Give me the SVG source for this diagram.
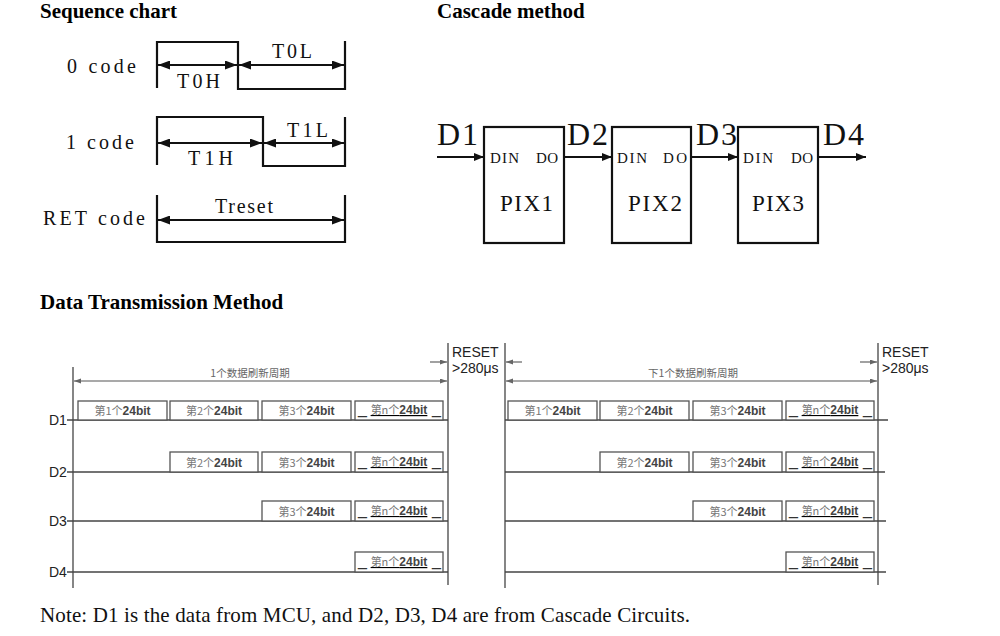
<svg xmlns="http://www.w3.org/2000/svg" width="1000" height="636" viewBox="0 0 1000 636">
<style>
.title{font-family:"Liberation Serif",serif;font-weight:bold;font-size:21px;fill:#000}
.seq{font-family:"Liberation Serif",serif;font-size:20px;fill:#111}
.wave{fill:none;stroke:#111;stroke-width:2.2}
.sarr{stroke:#111;stroke-width:2;marker-start:url(#seqA);marker-end:url(#seqA)}
.box{fill:#fff;stroke:#111;stroke-width:2.2}
.conn{stroke:#111;stroke-width:2.2;marker-end:url(#casA)}
.dl{font-family:"Liberation Serif",serif;font-size:32px;fill:#111}
.pin{font-family:"Liberation Serif",serif;font-size:15px;fill:#111}
.pix{font-family:"Liberation Serif",serif;font-size:23px;fill:#111}
.tl{stroke:#444;stroke-width:1.3;fill:none}
.tb{fill:#fff;stroke:#555;stroke-width:1.3}
.lab{font-family:"Liberation Sans",Arial,sans-serif;font-size:14px;fill:#222}
.cj{font-family:"Noto Sans CJK SC",sans-serif;font-size:11px;fill:#777}
.bt{font-family:"Liberation Sans",Arial,sans-serif;font-weight:bold;font-size:12px;fill:#444}
.us{font-family:"Liberation Sans",Arial,sans-serif;font-size:16px;fill:#333}
.per{font-family:"Noto Sans CJK SC",sans-serif;font-size:10.5px;fill:#666}
.parr{stroke:#555;stroke-width:1.1;marker-end:url(#smA)}
.parr2{stroke:#555;stroke-width:1.1;marker-start:url(#smA);marker-end:url(#smA)}
.note{font-family:"Liberation Serif",serif;font-size:21px;fill:#111}
</style>
<defs>
<marker id="seqA" markerUnits="userSpaceOnUse" markerWidth="13" markerHeight="9" refX="12" refY="4.5" orient="auto-start-reverse"><path d="M0,0 L12,4.5 L0,9 z" fill="#111"/></marker>
<marker id="casA" markerUnits="userSpaceOnUse" markerWidth="11" markerHeight="9" refX="10" refY="4" orient="auto-start-reverse"><path d="M0,0 L10,4 L0,8 z" fill="#111"/></marker>
<marker id="smA" markerUnits="userSpaceOnUse" markerWidth="8" markerHeight="6" refX="7" refY="2.5" orient="auto-start-reverse"><path d="M0,0 L7,2.5 L0,5 z" fill="#666"/></marker>
</defs>

<g id="titles">
<text class="title" x="40" y="18">Sequence chart</text>
<text class="title" x="437" y="18">Cascade method</text>
<text class="title" x="40" y="309">Data Transmission Method</text>
</g>

<!-- Sequence chart -->
<g id="seq-0code">
<text class="seq" x="67" y="73" textLength="69" lengthAdjust="spacing">0 code</text>
<path class="wave" d="M157,88 V42 H238 V89 H345 M345,41 V90"/>
<line class="sarr" x1="158" y1="65" x2="237" y2="65"/>
<line class="sarr" x1="239" y1="65" x2="344" y2="65"/>
<text class="seq" x="177" y="88" textLength="43" lengthAdjust="spacing">T0H</text>
<text class="seq" x="272" y="58" textLength="40" lengthAdjust="spacing">T0L</text>
</g>
<g id="seq-1code">
<text class="seq" x="66" y="149" textLength="68" lengthAdjust="spacing">1 code</text>
<path class="wave" d="M157,165 V117 H263 V166 H345 M345,117 V167"/>
<line class="sarr" x1="158" y1="143" x2="262" y2="143"/>
<line class="sarr" x1="264" y1="143" x2="344" y2="143"/>
<text class="seq" x="188" y="165" textLength="45" lengthAdjust="spacing">T1H</text>
<text class="seq" x="287" y="137" textLength="41" lengthAdjust="spacing">T1L</text>
</g>
<g id="seq-ret">
<text class="seq" x="43" y="225" textLength="102" lengthAdjust="spacing">RET code</text>
<path class="wave" d="M157,195 V243 M345,195 V243 M157,242 H345"/>
<line class="sarr" x1="158" y1="220" x2="344" y2="220"/>
<text class="seq" x="215" y="213" textLength="58" lengthAdjust="spacing">Treset</text>
</g>

<!-- Cascade method -->
<g id="cascade-connectors">
<line class="conn" x1="437" y1="157" x2="484" y2="157"/>
<line class="conn" x1="564" y1="157" x2="612" y2="157"/>
<line class="conn" x1="691" y1="157" x2="738" y2="157"/>
<line class="conn" x1="818" y1="157" x2="866" y2="157"/>
<text class="dl" x="437" y="145" textLength="41" lengthAdjust="spacing">D1</text>
<text class="dl" x="567" y="145" textLength="41" lengthAdjust="spacing">D2</text>
<text class="dl" x="696" y="145" textLength="41" lengthAdjust="spacing">D3</text>
<text class="dl" x="823" y="145" textLength="41" lengthAdjust="spacing">D4</text>
</g>
<g id="pix1">
<rect class="box" x="484" y="127" width="80" height="116"/>
<text class="pin" x="490" y="163" textLength="29" lengthAdjust="spacing">DIN</text>
<text class="pin" x="536" y="163" textLength="22" lengthAdjust="spacing">DO</text>
<text class="pix" x="500" y="211" textLength="53" lengthAdjust="spacing">PIX1</text>
</g>
<g id="pix2">
<rect class="box" x="612" y="127" width="79" height="116"/>
<text class="pin" x="617" y="163" textLength="30" lengthAdjust="spacing">DIN</text>
<text class="pin" x="663" y="163" textLength="24" lengthAdjust="spacing">DO</text>
<text class="pix" x="628" y="211" textLength="54" lengthAdjust="spacing">PIX2</text>
</g>
<g id="pix3">
<rect class="box" x="738" y="127" width="80" height="116"/>
<text class="pin" x="743" y="163" textLength="30" lengthAdjust="spacing">DIN</text>
<text class="pin" x="791" y="163" textLength="22" lengthAdjust="spacing">DO</text>
<text class="pix" x="752" y="211" textLength="52" lengthAdjust="spacing">PIX3</text>
</g>

<!-- Data transmission timing -->
<g id="timing-frame">
<line class="tl" x1="73" y1="367" x2="73" y2="588"/>
<line class="tl" x1="448" y1="343" x2="448" y2="585"/>
<line class="tl" x1="505" y1="343" x2="505" y2="588"/>
<line class="tl" x1="878" y1="343" x2="878" y2="585"/>
<line class="parr2" x1="74" y1="381" x2="447" y2="381"/>
<line class="parr2" x1="506" y1="381" x2="877" y2="381"/>
<line class="parr" x1="430" y1="362" x2="447" y2="362"/>
<line class="parr" x1="522" y1="362" x2="506" y2="362"/>
<line class="parr" x1="860" y1="362" x2="877" y2="362"/>
<text class="per" x="250" y="377" text-anchor="middle">1个数据刷新周期</text>
<text class="per" x="693" y="377" text-anchor="middle">下1个数据刷新周期</text>
<text class="lab" x="452" y="357">RESET</text>
<text class="lab" x="452" y="373">&gt;280μs</text>
<text class="lab" x="882" y="357">RESET</text>
<text class="lab" x="882" y="373">&gt;280μs</text>
</g>

<g id="row-D1">
<text class="lab" x="49" y="425">D1</text>
<line class="tl" x1="67" y1="420" x2="448" y2="420"/>
<line class="tl" x1="505" y1="420" x2="888" y2="420"/>
<rect class="tb" x="78" y="401" width="89" height="19"/>
<text x="122.5" y="415" text-anchor="middle"><tspan class="cj">第1个</tspan><tspan class="bt">24bit</tspan></text>
<rect class="tb" x="170" y="401" width="88" height="19"/>
<text x="214" y="415" text-anchor="middle"><tspan class="cj">第2个</tspan><tspan class="bt">24bit</tspan></text>
<rect class="tb" x="262" y="401" width="89" height="19"/>
<text x="306.5" y="415" text-anchor="middle"><tspan class="cj">第3个</tspan><tspan class="bt">24bit</tspan></text>
<rect class="tb" x="355" y="401" width="88" height="19"/>
<text class="us" x="358" y="414">_</text><text x="399" y="414" text-anchor="middle" text-decoration="underline"><tspan class="cj">第n个</tspan><tspan class="bt">24bit</tspan></text><text class="us" x="441" y="414" text-anchor="end">_</text>
<rect class="tb" x="508" y="401" width="89" height="19"/>
<text x="552.5" y="415" text-anchor="middle"><tspan class="cj">第1个</tspan><tspan class="bt">24bit</tspan></text>
<rect class="tb" x="600" y="401" width="89" height="19"/>
<text x="644.5" y="415" text-anchor="middle"><tspan class="cj">第2个</tspan><tspan class="bt">24bit</tspan></text>
<rect class="tb" x="693" y="401" width="89" height="19"/>
<text x="737.5" y="415" text-anchor="middle"><tspan class="cj">第3个</tspan><tspan class="bt">24bit</tspan></text>
<rect class="tb" x="786" y="401" width="88" height="19"/>
<text class="us" x="789" y="414">_</text><text x="830" y="414" text-anchor="middle" text-decoration="underline"><tspan class="cj">第n个</tspan><tspan class="bt">24bit</tspan></text><text class="us" x="872" y="414" text-anchor="end">_</text>
</g>

<g id="row-D2">
<text class="lab" x="49" y="477">D2</text>
<line class="tl" x1="67" y1="472" x2="448" y2="472"/>
<line class="tl" x1="505" y1="472" x2="885" y2="472"/>
<rect class="tb" x="170" y="452" width="88" height="20"/>
<text x="214" y="467" text-anchor="middle"><tspan class="cj">第2个</tspan><tspan class="bt">24bit</tspan></text>
<rect class="tb" x="262" y="452" width="89" height="20"/>
<text x="306.5" y="467" text-anchor="middle"><tspan class="cj">第3个</tspan><tspan class="bt">24bit</tspan></text>
<rect class="tb" x="355" y="452" width="88" height="20"/>
<text class="us" x="358" y="466">_</text><text x="399" y="466" text-anchor="middle" text-decoration="underline"><tspan class="cj">第n个</tspan><tspan class="bt">24bit</tspan></text><text class="us" x="441" y="466" text-anchor="end">_</text>
<rect class="tb" x="600" y="452" width="89" height="20"/>
<text x="644.5" y="467" text-anchor="middle"><tspan class="cj">第2个</tspan><tspan class="bt">24bit</tspan></text>
<rect class="tb" x="693" y="452" width="89" height="20"/>
<text x="737.5" y="467" text-anchor="middle"><tspan class="cj">第3个</tspan><tspan class="bt">24bit</tspan></text>
<rect class="tb" x="786" y="452" width="88" height="20"/>
<text class="us" x="789" y="466">_</text><text x="830" y="466" text-anchor="middle" text-decoration="underline"><tspan class="cj">第n个</tspan><tspan class="bt">24bit</tspan></text><text class="us" x="872" y="466" text-anchor="end">_</text>
</g>

<g id="row-D3">
<text class="lab" x="49" y="526">D3</text>
<line class="tl" x1="67" y1="521" x2="448" y2="521"/>
<line class="tl" x1="505" y1="521" x2="886" y2="521"/>
<rect class="tb" x="262" y="501" width="89" height="20"/>
<text x="306.5" y="516" text-anchor="middle"><tspan class="cj">第3个</tspan><tspan class="bt">24bit</tspan></text>
<rect class="tb" x="355" y="501" width="88" height="20"/>
<text class="us" x="358" y="515">_</text><text x="399" y="515" text-anchor="middle" text-decoration="underline"><tspan class="cj">第n个</tspan><tspan class="bt">24bit</tspan></text><text class="us" x="441" y="515" text-anchor="end">_</text>
<rect class="tb" x="693" y="501" width="89" height="20"/>
<text x="737.5" y="516" text-anchor="middle"><tspan class="cj">第3个</tspan><tspan class="bt">24bit</tspan></text>
<rect class="tb" x="786" y="501" width="88" height="20"/>
<text class="us" x="789" y="515">_</text><text x="830" y="515" text-anchor="middle" text-decoration="underline"><tspan class="cj">第n个</tspan><tspan class="bt">24bit</tspan></text><text class="us" x="872" y="515" text-anchor="end">_</text>
</g>

<g id="row-D4">
<text class="lab" x="49" y="577">D4</text>
<line class="tl" x1="67" y1="572" x2="448" y2="572"/>
<line class="tl" x1="505" y1="572" x2="886" y2="572"/>
<rect class="tb" x="355" y="552" width="88" height="20"/>
<text class="us" x="358" y="566">_</text><text x="399" y="566" text-anchor="middle" text-decoration="underline"><tspan class="cj">第n个</tspan><tspan class="bt">24bit</tspan></text><text class="us" x="441" y="566" text-anchor="end">_</text>
<rect class="tb" x="786" y="552" width="88" height="20"/>
<text class="us" x="789" y="566">_</text><text x="830" y="566" text-anchor="middle" text-decoration="underline"><tspan class="cj">第n个</tspan><tspan class="bt">24bit</tspan></text><text class="us" x="872" y="566" text-anchor="end">_</text>
</g>

<g id="note">
<text class="note" x="40" y="622" textLength="650" lengthAdjust="spacing">Note: D1 is the data from MCU, and D2, D3, D4 are from Cascade Circuits.</text>
</g>
</svg>
